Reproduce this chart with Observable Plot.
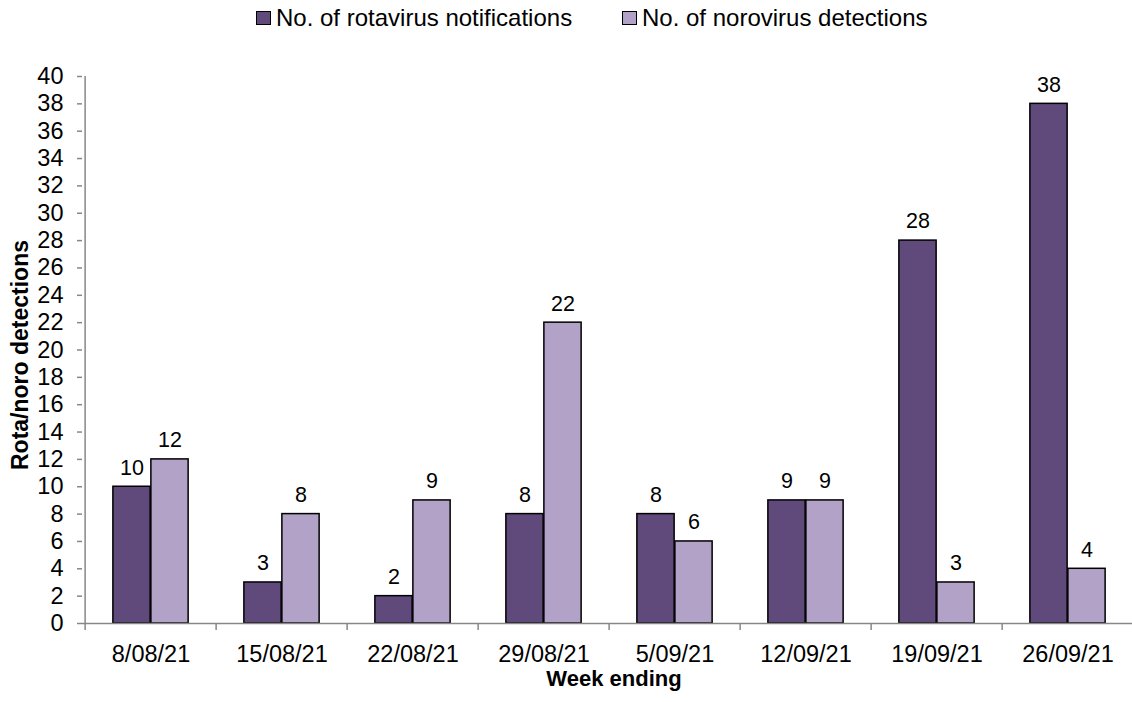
<!DOCTYPE html>
<html><head><meta charset="utf-8">
<script src="https://cdn.jsdelivr.net/npm/d3@7"></script>
<script src="https://cdn.jsdelivr.net/npm/@observablehq/plot@0.6"></script>
<style>
body{margin:0;background:#fff;font-family:"Liberation Sans",Arial,sans-serif;color:#000;}
#wrap{position:relative;width:1132px;height:702px;overflow:hidden;}
#legend{position:relative;height:36px;}
.item{position:absolute;top:5px;height:26px;display:flex;align-items:center;font-size:24px;white-space:nowrap;}
.sw{width:13px;height:12px;border:1px solid #000;margin-right:5px;}
#ytitle{position:absolute;left:20px;top:355px;transform:translate(-50%,-50%) rotate(-90deg);font-weight:bold;font-size:23px;white-space:nowrap;line-height:23px;}
#xtitle{position:absolute;left:614px;top:668px;transform:translateX(-50%);font-weight:bold;font-size:22px;white-space:nowrap;line-height:22px;}
#chart svg{display:block;}
</style></head><body>
<div id="wrap">
<div id="legend"></div>
<div id="chart"></div>
<div id="ytitle">Rota/noro detections</div>
<div id="xtitle">Week ending</div>
</div>
<script>
const weeks = ["8/08/21","15/08/21","22/08/21","29/08/21","5/09/21","12/09/21","19/09/21","26/09/21"];
const rota = [10, 3, 2, 8, 8, 9, 28, 38];
const noro = [12, 8, 9, 22, 6, 9, 3, 4];
const yTicks = d3.range(0, 41, 2);
const seriesNames = ["No. of rotavirus notifications", "No. of norovirus detections"];
const colors = ["#604a7b", "#b3a2c7"];

// legend
const legendLeft = [256, 622];
const leg = d3.select("#legend");
seriesNames.forEach((n, i) => {
  const it = leg.append("div").attr("class", "item").style("left", legendLeft[i] + "px");
  it.append("div").attr("class", "sw").style("background", colors[i]);
  it.append("span").text(n);
});

const W = 1132, H = 666;
const x0 = 82, x1 = 1136;
const step = (x1 - x0) / weeks.length;
const barW = 38;
const grey = "#878787";

const plot = Plot.plot({
  width: W, height: H,
  marginLeft: x0, marginRight: 0, marginTop: 40, marginBottom: 79,
  style: {fontFamily: "'Liberation Sans', Arial, sans-serif", fontSize: "23.5px", color: "#000", background: "#fff", overflow: "visible"},
  x: {domain: weeks, range: [x0, x1], padding: 0, axis: null},
  y: {domain: [0, 40], axis: null},
  marks: [
    Plot.barY(rota, {x: weeks, y: rota, fill: colors[0], stroke: "#000", strokeWidth: 1.5,
      insetLeft: step / 2 - barW, insetRight: step / 2}),
    Plot.barY(noro, {x: weeks, y: noro, fill: colors[1], stroke: "#000", strokeWidth: 1.5,
      insetLeft: step / 2, insetRight: step / 2 - barW}),
    Plot.ruleY([0], {stroke: grey, strokeWidth: 1.5}),
    Plot.ruleX([weeks[0]], {x: d => d, dx: -step / 2, y1: 0, y2: 40, stroke: grey, strokeWidth: 1.5}),
    Plot.ruleX(weeks, {x: d => d, dx: -step / 2, y1: 0, y2: 0, insetBottom: -7, stroke: grey, strokeWidth: 1.5}),
    Plot.axisY({ticks: yTicks, tickSize: 5, tickPadding: 14, stroke: grey, strokeWidth: 1.5, fontSize: 23.5, label: null}),
    Plot.axisX({tickSize: 0, tickPadding: 22, fontSize: 23.5, label: null}),
    Plot.text(rota, {x: weeks, y: rota, text: d => String(d), dx: -barW / 2, dy: -19, fontSize: 21.5}),
    Plot.text(noro, {x: weeks, y: noro, text: d => String(d), dx: barW / 2, dy: -19, fontSize: 21.5})
  ]
});
document.getElementById("chart").appendChild(plot);
</script>
</body></html>
